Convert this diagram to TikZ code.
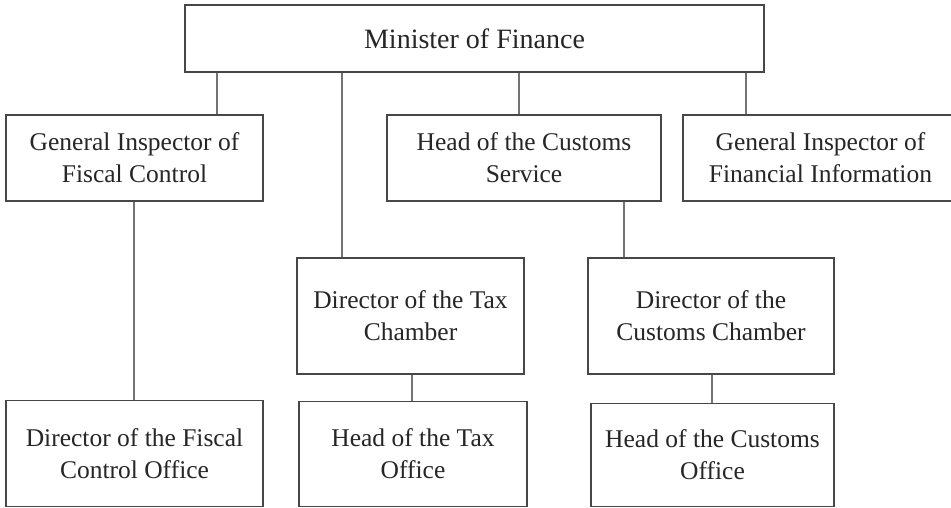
\documentclass[tikz,border=0pt]{standalone}
\usepackage{fontspec}
\setmainfont{Liberation Serif}
\begin{document}
\begin{tikzpicture}[x=1pt,y=-1pt,
  orgbox/.style={draw=black!72, line width=1.1pt, fill=white, align=center, inner sep=0pt,
    font=\fontsize{25.5}{32}\selectfont, text=black!85},
  link/.style={draw=black!55, line width=1.1pt}]
\useasboundingbox (0,0) rectangle (951,507);
\fill[white] (0,0) rectangle (951,507);
% boxes
\node[orgbox, minimum width=579pt, minimum height=67pt, font=\fontsize{28}{34}\selectfont] (min) at (474.5,38.5) {Minister of Finance};
\node[orgbox, minimum width=257pt, minimum height=86pt] (gifc) at (134.5,158) {General Inspector of\\Fiscal Control};
\node[orgbox, minimum width=274pt, minimum height=86pt] (hcs) at (524,158) {Head of the Customs\\Service};
\node[orgbox, minimum width=290pt, minimum height=86pt] (gifi) at (828,158) {General Inspector of\hspace*{15pt}\\Financial Information\hspace*{15pt}};
\node[orgbox, minimum width=227pt, minimum height=116pt] (dtc) at (410.5,316) {Director of the Tax\\Chamber};
\node[orgbox, minimum width=246pt, minimum height=116pt] (dcc) at (711,316) {Director of the\\Customs Chamber};
\node[orgbox, minimum width=257pt, minimum height=106pt] (dfco) at (134.5,453.5) {Director of the Fiscal\\Control Office};
\node[orgbox, minimum width=228pt, minimum height=105pt] (hto) at (413,454) {Head of the Tax\\Office};
\node[orgbox, minimum width=243pt, minimum height=103pt] (hco) at (712.5,455) {Head of the Customs\\Office};
% connectors
\draw[link] (min.south -| 217,0) -- (gifc.north -| 217,0);
\draw[link] (min.south -| 342,0) -- (dtc.north -| 342,0);
\draw[link] (min.south -| 519,0) -- (hcs.north -| 519,0);
\draw[link] (min.south -| 746,0) -- (gifi.north -| 746,0);
\draw[link] (gifc.south -| 134,0) -- (dfco.north -| 134,0);
\draw[link] (hcs.south -| 624,0) -- (dcc.north -| 624,0);
\draw[link] (dtc.south -| 412,0) -- (hto.north -| 412,0);
\draw[link] (dcc.south -| 712,0) -- (hco.north -| 712,0);
\end{tikzpicture}
\end{document}
